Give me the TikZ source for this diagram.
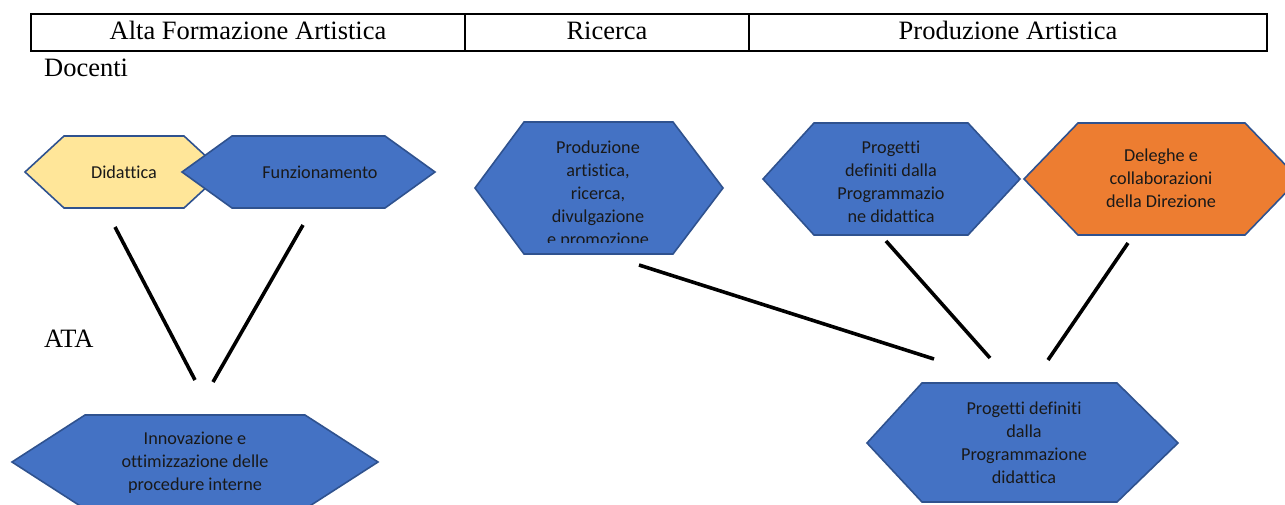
\documentclass[tikz,border=0pt]{standalone}
\usepackage{fontspec}
\setmainfont{Liberation Serif}
\newfontfamily\calibri[Ligatures=NoCommon]{Carlito}
\usepackage{tikz}
\usetikzlibrary{calc}
\definecolor{hexblue}{HTML}{4472C4}
\definecolor{hexline}{HTML}{2F528F}
\definecolor{hexyellow}{HTML}{FFE699}
\definecolor{hexorange}{HTML}{ED7D31}

\begin{document}
\begin{tikzpicture}[x=1pt,y=-1pt]
\tikzset{
    hexa/.style={
       draw=hexline,
       line width=1.6pt,
       line join=miter
    },
    hex label/.style={
       font=\calibri\fontsize{18.2}{23}\selectfont,
       align=center,
       inner sep=0pt,
       text=black!90
    },
    head label/.style={
       font=\fontsize{26.5}{29}\selectfont,
       anchor=base,
       inner sep=0pt
    },
    link/.style={line width=3.6pt}
}
\useasboundingbox (0,0) rectangle (1285,504);
\clip (0,0) rectangle (1285,504);
%
% table
\draw[line width=1.8pt] (31,14) rectangle (1267,51);
\draw[line width=1.2pt] (465,14) -- (465,51) (749,14) -- (749,51);
\node[head label] (afa) at (248,39) {Alta Formazione Artistica};
\node[head label] (ric) at (607,39) {Ricerca};
\node[head label] (prodart) at (1008,39) {Produzione Artistica};
\node[head label, anchor=base west] (docenti) at (44,76) {Docenti};
\node[head label, anchor=base west] (ata) at (44,347) {ATA};

% hexagons
\filldraw[hexa, fill=hexyellow] (25,172) -- (64,136) -- (184,136) -- (223,172) -- (184,208) -- (64,208) -- cycle;
\node[hex label] (did) at (124,172) {Didattica};
\filldraw[hexa, fill=hexblue] (182,172) -- (232,136) -- (385,136) -- (435,172) -- (385,208) -- (232,208) -- cycle;
\node[hex label] (funz) at (320,172) {Funzionamento};

\filldraw[hexa, fill=hexblue] (475,188) -- (524,122) -- (673,122) -- (723,188) -- (673,254) -- (524,254) -- cycle;
\begin{scope}
\clip (475,122) rectangle (723,242);
\node[hex label, anchor=north] (prod) at (598,140.5) {Produzione\\artistica,\\ricerca,\\divulgazione\\e promozione};
\end{scope}

\filldraw[hexa, fill=hexblue] (763,179) -- (814,123) -- (968,123) -- (1020,179) -- (968,235) -- (814,235) -- cycle;
\node[hex label] (prog) at (891,182) {Progetti\\definiti dalla\\Programmazio\\ne didattica};
\filldraw[hexa, fill=hexorange] (1024,179) -- (1078,123) -- (1245,123) -- (1299,179) -- (1245,235) -- (1078,235) -- cycle;
\node[hex label] (deleghe) at (1161,178) {Deleghe e\\collaborazioni\\della Direzione};

\filldraw[hexa, fill=hexblue] (12,462) -- (85,415) -- (305,415) -- (378,462) -- (305,509) -- (85,509) -- cycle;
\node[hex label] (innov) at (195,463) {Innovazione e\\ottimizzazione delle\\procedure interne};
\filldraw[hexa, fill=hexblue] (867,443) -- (922,383) -- (1117,383) -- (1178,443) -- (1117,502) -- (922,502) -- cycle;
\node[hex label] (progdef) at (1024,443) {Progetti definiti\\dalla\\Programmazione\\didattica};

% links
\coordinate (l1a) at (115,227);  \coordinate (l1b) at (195,380);
\coordinate (l2a) at (303,225);  \coordinate (l2b) at (213,382);
\coordinate (l3a) at (639,265);  \coordinate (l3b) at (934,359);
\coordinate (l4a) at (886,241);  \coordinate (l4b) at (990,358);
\coordinate (l5a) at (1128,243); \coordinate (l5b) at (1048,360);
\draw[link] (l1a) -- (l1b);
\draw[link] (l2a) -- (l2b);
\draw[link] (l3a) -- (l3b);
\draw[link] (l4a) -- (l4b);
\draw[link] (l5a) -- (l5b);
\end{tikzpicture}
\end{document}
